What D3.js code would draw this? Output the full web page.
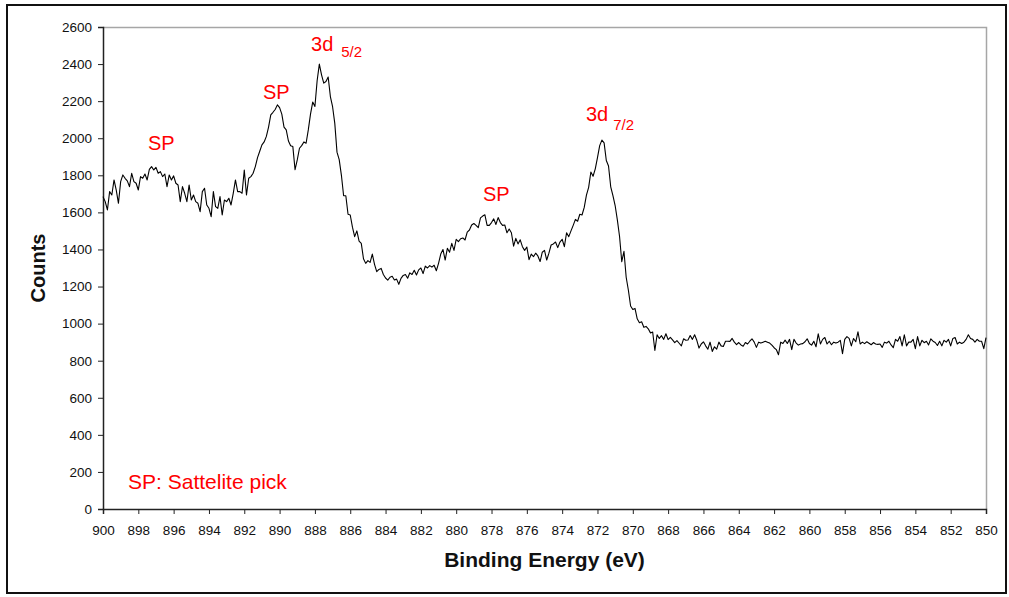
<!DOCTYPE html>
<html>
<head>
<meta charset="utf-8">
<script src="https://cdn.jsdelivr.net/npm/d3@7"></script>
<style>
  body { margin: 0; background: #fff; }
  text { font-family: "Liberation Sans", Arial, sans-serif; }
</style>
</head>
<body>
<svg id="plot" width="1009" height="597"></svg>
<script>
// spectrum counts, evenly spaced from 900 eV down to 850 eV
const counts = [
  1685, 1658, 1613, 1712, 1694, 1775, 1720, 1649, 1766, 1802,
  1784, 1770, 1739, 1811, 1766, 1757, 1721, 1793, 1784, 1807,
  1775, 1832, 1847, 1829, 1843, 1811, 1820, 1793, 1807, 1739,
  1802, 1775, 1797, 1757, 1748, 1658, 1739, 1703, 1658, 1748,
  1667, 1694, 1658, 1649, 1604, 1712, 1730, 1640, 1622, 1577,
  1712, 1631, 1622, 1685, 1586, 1667, 1658, 1676, 1640, 1703,
  1775, 1712, 1712, 1703, 1829, 1694, 1784, 1793, 1811, 1847,
  1895, 1930, 1964, 1980, 2010, 2060, 2126, 2140, 2155, 2180,
  2165, 2130, 2060, 2045, 1985, 1960, 1955, 1830, 1883, 1946,
  1960, 1980, 1973, 2045, 2130, 2195, 2171, 2310, 2400, 2342,
  2297, 2306, 2330, 2225, 2170, 2080, 1925, 1885, 1800, 1690,
  1690, 1590, 1586, 1520, 1469, 1500, 1445, 1433, 1350, 1325,
  1340, 1330, 1375, 1320, 1280, 1292, 1298, 1265, 1246, 1235,
  1250, 1255, 1235, 1240, 1212, 1244, 1260, 1265, 1245, 1274,
  1265, 1288, 1262, 1290, 1300, 1270, 1310, 1300, 1313, 1305,
  1315, 1285, 1325, 1375, 1400, 1343, 1406, 1385, 1433, 1395,
  1455, 1442, 1458, 1462, 1451, 1494, 1505, 1532, 1540, 1530,
  1518, 1570, 1580, 1587, 1530, 1530, 1545, 1565, 1535, 1572,
  1545, 1530, 1532, 1490, 1510, 1490, 1418, 1460, 1430, 1452,
  1415, 1395, 1413, 1345, 1375, 1361, 1380, 1365, 1335, 1385,
  1395, 1343, 1380, 1424, 1430, 1440, 1410, 1440, 1455, 1415,
  1490, 1469, 1500, 1530, 1562, 1552, 1590, 1586, 1627, 1693,
  1735, 1818, 1795, 1835, 1895, 1960, 1990, 1975, 1880, 1850,
  1738, 1690, 1637, 1560, 1470, 1334, 1390, 1250, 1180, 1095,
  1076, 1082, 1026, 1005, 1010, 980, 985, 972, 950, 955,
  855, 940, 920, 935, 915, 945, 914, 926, 912, 897,
  908, 894, 880, 918, 910, 912, 936, 915, 940, 910,
  868, 890, 902, 880, 862, 900, 850, 875, 862, 900,
  880, 877, 905, 905, 904, 920, 900, 887, 898, 885,
  878, 898, 890, 905, 918, 900, 872, 900, 895, 900,
  905, 900, 895, 884, 870, 860, 832, 900, 893, 911,
  893, 915, 860, 915, 895, 884, 890, 892, 902, 918,
  893, 884, 905, 875, 945, 890, 915, 925, 890, 905,
  886, 900, 895, 900, 910, 838, 915, 930, 920, 880,
  920, 902, 956, 890, 900, 892, 902, 894, 886, 898,
  890, 888, 890, 872, 900, 895, 905, 885, 870, 915,
  905, 930, 880, 940, 880, 900, 900, 915, 865, 930,
  880, 910, 897, 905, 885, 918, 905, 898, 882, 905,
  880, 910, 900, 915, 880, 920, 925, 890, 900, 893,
  900, 915, 940, 920, 915, 900, 915, 905, 905, 865,
  925
];

const energyRange = [900, 850];
const xTicks = d3.range(900, 849, -2);
const yTicks = d3.range(0, 2601, 200);

// annotations anchored in data space: [energy, counts]
const peakLabels = [
  { text: "SP", sub: "", e: 897.45, c: 1936 },
  { text: "SP", sub: "", e: 890.94, c: 2212 },
  { text: "3d", sub: "5/2", e: 888.22, c: 2470, dx: 8, dy: 6 },
  { text: "SP", sub: "", e: 878.48, c: 1661 },
  { text: "3d", sub: "7/2", e: 872.65, c: 2093, dx: 5, dy: 9 }
];
const note = { text: "SP: Sattelite pick", e: 898.58, c: 108 };

const width = 1009;
const height = 597;
const margin = { top: 27, right: 23, bottom: 88, left: 103 };
const innerWidth = width - margin.left - margin.right;
const innerHeight = height - margin.top - margin.bottom;

const svg = d3.select("#plot");

// outer frame
svg.append("rect")
  .attr("x", 7)
  .attr("y", 5)
  .attr("width", 999)
  .attr("height", 588)
  .attr("fill", "none")
  .attr("stroke", "#111")
  .attr("stroke-width", 2);

const xScale = d3.scaleLinear().domain(energyRange).range([0, innerWidth]);
const yScale = d3.scaleLinear().domain([0, 2600]).range([innerHeight, 0]);
const indexToEnergy = d3.scaleLinear().domain([0, counts.length - 1]).range(energyRange);

const g = svg.append("g")
  .attr("transform", `translate(${margin.left}, ${margin.top})`);

// gray top/right frame of the plot area
g.append("path")
  .attr("d", `M0,0.5H${innerWidth + 0.5}V${innerHeight}`)
  .attr("fill", "none")
  .attr("stroke", "#a6a6a6")
  .attr("stroke-width", 1.5);

const xAxis = d3.axisBottom(xScale)
  .tickValues(xTicks)
  .tickFormat(d3.format("d"))
  .tickSizeOuter(0)
  .tickSize(5)
  .tickPadding(11);

const yAxis = d3.axisLeft(yScale)
  .tickValues(yTicks)
  .tickFormat(d3.format("d"))
  .tickSizeOuter(0)
  .tickSize(5)
  .tickPadding(6);

const gx = g.append("g")
  .attr("transform", `translate(0, ${innerHeight})`)
  .call(xAxis);

const gy = g.append("g").call(yAxis);

[gx, gy].forEach(ax => {
  ax.select(".domain").attr("stroke", "#222").attr("stroke-width", 1.5);
  ax.selectAll(".tick line").attr("stroke", "#222");
  ax.selectAll(".tick text")
    .attr("font-size", 13.5)
    .attr("fill", "#111")
    .style("font-family", "'Liberation Sans', Arial, sans-serif");
});

// spectrum line
g.append("path")
  .datum(counts)
  .attr("fill", "none")
  .attr("stroke", "#000")
  .attr("stroke-width", 1.1)
  .attr("stroke-linejoin", "round")
  .attr("d", d3.line()
    .x((d, i) => xScale(indexToEnergy(i)))
    .y(d => yScale(d))
  );

// peak labels
peakLabels.forEach(p => {
  const t = g.append("text")
    .attr("x", xScale(p.e))
    .attr("y", yScale(p.c))
    .attr("fill", "#ff0000")
    .attr("font-size", 20)
    .text(p.text);
  if (p.sub) {
    t.append("tspan")
      .attr("dx", p.dx)
      .attr("dy", p.dy)
      .attr("font-size", 15)
      .text(p.sub);
  }
});

g.append("text")
  .attr("x", xScale(note.e))
  .attr("y", yScale(note.c))
  .attr("fill", "#ff0000")
  .attr("font-size", 21)
  .text(note.text);

// axis titles
svg.append("text")
  .attr("x", margin.left + innerWidth / 2)
  .attr("y", 567)
  .attr("text-anchor", "middle")
  .attr("font-size", 21)
  .attr("font-weight", "bold")
  .attr("fill", "#111")
  .text("Binding Energy (eV)");

svg.append("text")
  .attr("transform", `translate(45, ${margin.top + innerHeight / 2}) rotate(-90)`)
  .attr("text-anchor", "middle")
  .attr("font-size", 20)
  .attr("font-weight", "bold")
  .attr("fill", "#111")
  .text("Counts");
</script>
</body>
</html>
